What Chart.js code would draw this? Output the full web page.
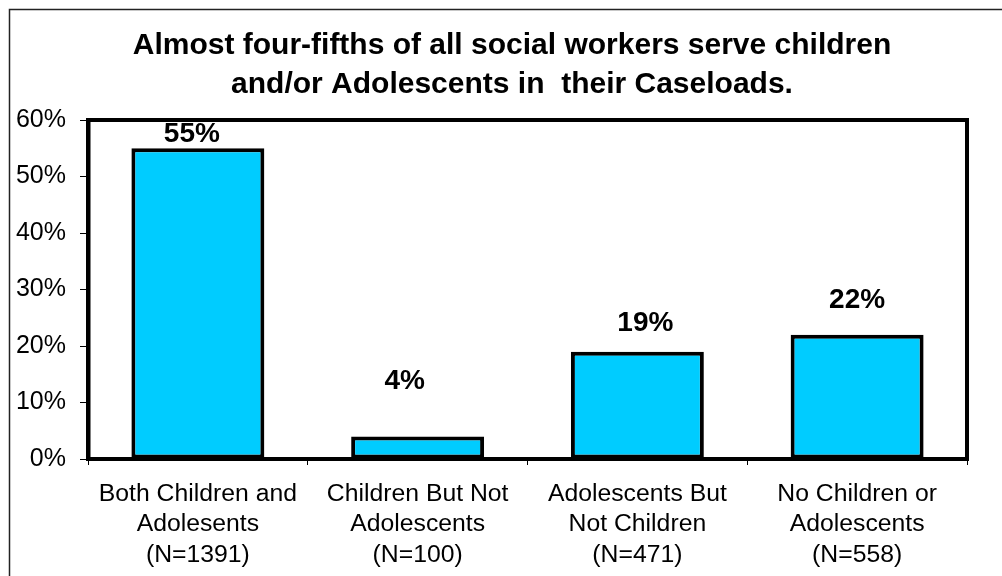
<!DOCTYPE html>
<html>
<head>
<meta charset="utf-8">
<script src="https://cdn.jsdelivr.net/npm/chart.js@4/dist/chart.umd.min.js"></script>
<style>
  html, body { margin: 0; padding: 0; background: #fff; overflow: hidden; }
  canvas { display: block; }
</style>
</head>
<body>
<canvas id="chart" width="1002" height="576"></canvas>
<script>
// Caseload composition of social workers
const categories = [
  ['Both Children and', 'Adolesents', '(N=1391)'],
  ['Children But Not', 'Adolescents', '(N=100)'],
  ['Adolescents But', 'Not Children', '(N=471)'],
  ['No Children or', 'Adolescents', '(N=558)']
];
const shares = [55, 4, 19, 22];
const yTickValues = [0, 10, 20, 30, 40, 50, 60];
const titleLines = [
  'Almost four-fifths of all social workers serve children',
  'and/or Adolescents in  their Caseloads.'
];
// per-label nudges for the value labels: [dx, lift above bar top]
const labelNudge = [[-6, 14], [-13, 55], [8, 28], [0, 34]];

const FONT = '"Liberation Sans", Arial, sans-serif';

// white page, outer frame, title, plot frame and value labels
const decorations = {
  id: 'decorations',
  beforeDraw(chart) {
    const ctx = chart.ctx;
    ctx.save();
    ctx.fillStyle = '#fff';
    ctx.fillRect(0, 0, chart.width, chart.height);
    ctx.strokeStyle = '#222';
    ctx.lineWidth = 1.5;
    ctx.strokeRect(9.5, 9.5, chart.width + 50, chart.height + 50);
    ctx.restore();
  },
  afterDraw(chart) {
    const ctx = chart.ctx;
    const a = chart.chartArea;
    ctx.save();
    // plot frame
    ctx.strokeStyle = '#000';
    ctx.lineWidth = 4;
    ctx.strokeRect(a.left + 0.5, a.top, a.right - a.left - 0.5, a.bottom - a.top);

    // title
    ctx.fillStyle = '#000';
    ctx.textAlign = 'center';
    ctx.textBaseline = 'middle';
    ctx.font = 'bold 30px ' + FONT;
    ctx.fillText(titleLines[0], 512, 46);
    ctx.fillText(titleLines[1], 512, 85);

    // value labels
    ctx.font = 'bold 28px ' + FONT;
    const meta = chart.getDatasetMeta(0);
    meta.data.forEach((bar, i) => {
      const [dx, lift] = labelNudge[i];
      ctx.fillText(shares[i] + '%', bar.x + dx, bar.y - lift);
    });
    ctx.restore();
  }
};

new Chart(document.getElementById('chart'), {
  type: 'bar',
  data: {
    labels: categories,
    datasets: [{
      data: shares,
      backgroundColor: '#00CCFF',
      borderColor: '#000',
      borderWidth: 4,
      borderSkipped: false,
      categoryPercentage: 1,
      barPercentage: 0.605
    }]
  },
  options: {
    responsive: false,
    devicePixelRatio: 1,
    animation: false,
    layout: { padding: { left: 0, top: 120, right: 35, bottom: 0 } },
    plugins: {
      legend: { display: false },
      title: { display: false },
      tooltip: { enabled: false }
    },
    scales: {
      x: {
        grid: {
          display: true,
          drawOnChartArea: false,
          drawTicks: true,
          tickLength: 6,
          color: '#000',
          lineWidth: 1
        },
        border: { display: true, color: '#000', width: 4 },
        ticks: {
          color: '#000',
          padding: 14,
          maxRotation: 0,
          autoSkip: false,
          font: { family: FONT, size: 24.75, lineHeight: 1.23 }
        },
        afterFit(scale) { scale.height = 117; }
      },
      y: {
        min: 0,
        max: 60,
        afterBuildTicks(scale) {
          scale.ticks = yTickValues.map(v => ({ value: v }));
        },
        grid: {
          display: true,
          drawOnChartArea: false,
          drawTicks: true,
          tickLength: 8,
          color: '#000',
          lineWidth: 1
        },
        border: { display: true, color: '#000', width: 4 },
        ticks: {
          color: '#000',
          padding: 14,
          font: { family: FONT, size: 25 },
          callback: v => v + '%'
        },
        afterFit(scale) { scale.width = 88; }
      }
    }
  },
  plugins: [decorations]
});
</script>
</body>
</html>
